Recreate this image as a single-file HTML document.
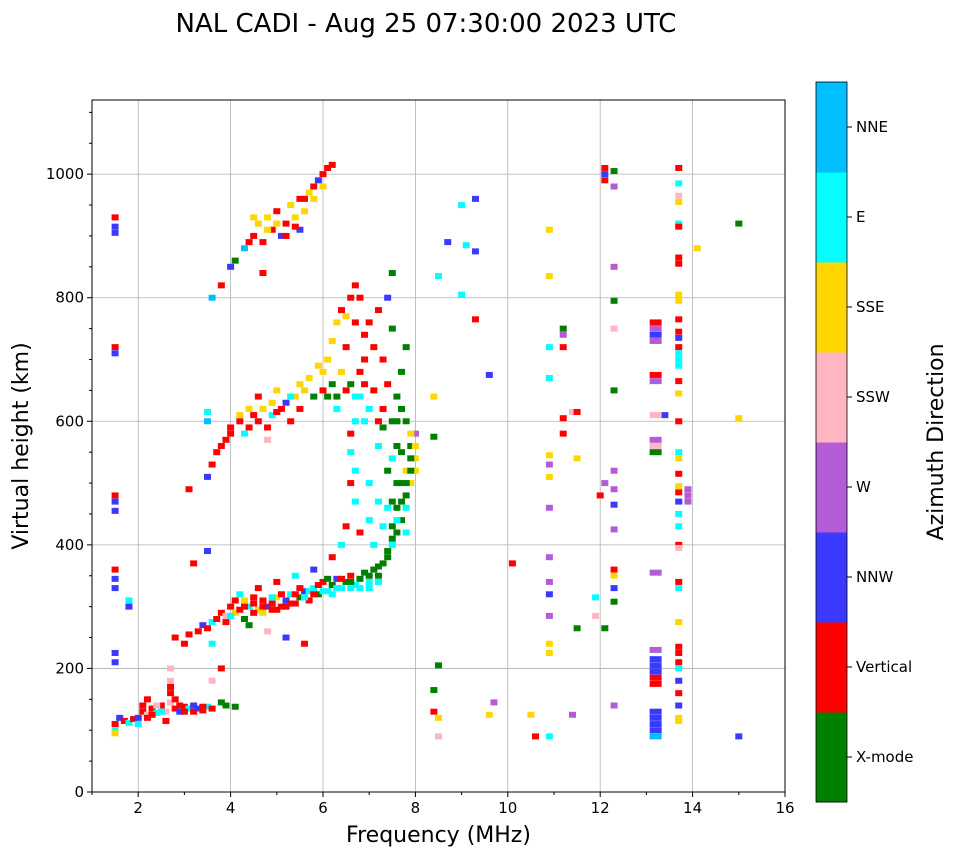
<!DOCTYPE html>
<html><head><meta charset="utf-8"><style>
body{margin:0;background:#fff;font-family:"DejaVu Sans",sans-serif;}
svg{display:block}
</style></head><body>
<svg id="chart" width="958" height="857" font-family="DejaVu Sans, sans-serif">
<text x="426" y="32" font-size="26" text-anchor="middle">NAL CADI - Aug 25 07:30:00 2023 UTC</text>
<g id="plot"></g>
<g id="cbar"></g>
</svg>
<script>
const categories=["X-mode","Vertical","NNW","W","SSW","SSE","E","NNE"];
const catColors=["#008000","#ff0000","#3a3aff","#b45cd6","#ffb6c1","#ffd700","#00ffff","#00bfff"];
const xTicks=[2,4,6,8,10,12,14,16];
const yTicks=[0,200,400,600,800,1000];
const echoes=[
[1.5,110,1],[1.5,100,6],[1.5,95,5],[1.6,120,2],[1.7,115,1],[1.8,112,6],[1.9,118,1],[2.0,120,2],[2.1,130,1],[2.2,125,4],[2.3,135,1],[2.4,128,6],[2.5,140,1],[2.6,130,4],[2.7,160,1],[2.7,145,4],[2.7,180,4],[2.8,135,1],[2.9,130,2],[3.0,138,1],[3.1,135,6],[3.2,130,1],[3.3,135,2],[3.4,132,1],[3.5,138,6],[3.8,145,0],[3.9,140,0],[4.1,138,0],[2.7,200,4],[2.2,120,1],[2.0,110,6],[2.6,115,1],
[2.1,140,1],[2.3,125,1],[2.5,130,6],[2.7,170,1],[2.8,150,1],[2.9,140,1],[3.0,130,1],[3.2,140,2],[3.4,138,1],[3.6,135,1],[2.2,150,1],[2.4,140,4],
[1.5,930,1],[1.5,915,2],[1.5,905,2],[1.5,720,1],[1.5,710,2],[1.5,480,1],[1.5,470,2],[1.5,455,2],[1.5,360,1],[1.5,345,2],[1.5,330,2],[1.5,225,2],[1.5,210,2],[1.8,300,2],[1.8,310,6],
[2.8,250,1],[3.0,240,1],[3.1,255,1],[3.3,260,1],[3.4,270,2],[3.5,265,1],[3.6,275,6],[3.7,280,1],[3.8,290,1],[3.9,285,4],[4.0,300,1],[4.1,290,5],[4.2,295,1],[4.3,280,0],[4.4,300,6],[4.5,305,1],[4.6,295,5],[4.7,310,1],[4.8,300,2],[4.9,305,1],[5.0,315,5],[5.1,300,1],[5.2,310,2],[5.3,320,6],[5.4,305,1],[5.5,315,0],[5.6,325,2],[5.7,310,1],[5.8,330,6],[5.9,320,0],[6.0,340,1],[6.1,325,6],[6.2,335,0],[6.3,345,2],[6.4,330,6],[6.5,340,0],[6.6,350,1],[6.7,335,6],[6.8,345,0],[6.9,355,0],[7.0,340,6],[7.1,360,0],[7.2,350,0],[7.3,370,0],[7.4,380,0],[7.5,400,6],[7.6,420,0],[7.7,440,0],[7.8,460,6],[7.8,480,0],[7.9,500,5],[8.0,520,5],[8.0,540,5],[7.9,560,0],[8.0,580,3],[7.7,550,0],[7.5,470,0],[7.3,430,6],[7.1,400,6],[6.8,420,1],[6.6,500,1],[6.6,550,6],[6.7,470,6],[7.0,500,6],[7.2,560,6],[7.4,520,0],[7.6,600,0],[7.6,640,0],[7.8,720,0],[7.7,680,0],[7.5,750,0],[7.4,800,2],[7.5,840,0],[7.2,780,1],[7.0,760,1],[6.9,700,1],[6.7,820,1],[6.6,800,1],[6.7,760,1],[6.5,770,5],[4.2,320,6],[4.6,330,1],[5.0,340,1],[5.4,350,6],[5.8,360,2],[6.2,380,1],[6.4,400,6],[6.5,430,1],[3.5,390,2],[3.2,370,1],[4.4,270,0],[4.8,260,4],[5.2,250,2],[5.6,240,1],[3.6,240,6],[3.8,200,1],[3.6,180,4],
[4.3,300,1],[4.5,290,1],[4.7,290,5],[4.9,295,1],[5.1,320,1],[5.3,305,1],[5.5,330,1],[5.7,325,6],[5.9,335,1],[6.1,345,0],[6.3,330,6],[6.6,330,6],[7.0,330,6],[7.2,340,6],[7.5,430,0],[7.6,460,0],[7.7,500,0],[7.8,520,5],[7.9,540,0],[7.8,600,0],[7.3,620,1],[7.1,650,1],
[3.9,275,1],[4.0,285,6],[4.1,310,1],[4.3,310,5],[4.5,315,1],[4.7,300,1],[4.9,315,6],[5.0,295,1],[5.2,300,1],[5.4,320,1],[5.6,315,6],[5.8,320,1],[6.0,325,6],[6.2,320,6],[6.4,345,1],[6.6,340,0],[6.8,330,6],[7.0,350,0],[7.2,365,0],[7.4,390,0],[7.5,410,0],[7.6,440,6],[7.7,470,0],[7.8,500,0],[7.9,520,0],[7.9,580,5],[8.0,560,5],[7.6,560,0],[7.5,600,0],[7.4,660,1],[7.3,700,1],[7.1,720,1],[6.9,740,1],[6.8,800,1],[7.2,470,6],[7.0,440,6],[6.9,600,6],[6.7,600,6],[6.6,580,1],[6.7,520,6],[7.3,590,0],[7.5,540,6],[7.7,620,0],[7.4,460,6],[7.6,500,0],[7.8,420,6],
[3.1,490,1],[3.5,510,2],[3.6,530,1],[3.7,550,1],[3.9,570,1],[4.0,580,1],[4.2,610,5],[4.4,620,5],[4.6,600,1],[4.8,590,1],[4.9,610,6],[5.0,615,1],[5.2,630,2],[5.3,600,1],[5.4,640,5],[5.5,620,1],[5.6,650,5],[5.8,640,0],[6.0,650,1],[6.0,680,5],[6.1,700,5],[6.2,660,0],[6.3,640,0],[6.4,680,5],[6.5,720,1],[6.6,660,0],[6.8,640,6],[7.0,620,6],[7.2,600,1],[6.2,730,5],[6.3,760,5],[6.4,780,1],[4.6,640,1],[5.0,650,5],[4.3,580,6],[4.8,570,4],[3.5,600,7],[3.5,615,6],
[3.8,560,1],[4.0,590,1],[4.2,600,1],[4.4,590,1],[4.5,610,1],[4.7,620,5],[4.9,630,5],[5.1,620,1],[5.3,640,6],[5.5,660,5],[5.7,670,5],[5.9,690,5],[6.1,640,0],[6.3,620,6],[6.5,650,1],[6.7,640,6],[6.8,680,1],[6.9,660,1],
[3.6,800,7],[3.8,820,1],[4.0,850,2],[4.1,860,0],[4.3,880,7],[4.5,900,1],[4.6,920,5],[4.7,890,1],[4.8,930,5],[4.9,910,1],[5.0,940,1],[5.1,900,2],[5.2,920,1],[5.3,950,5],[5.4,930,5],[5.5,960,1],[5.6,940,5],[5.7,970,5],[5.8,980,1],[5.9,990,2],[6.0,1000,1],[6.1,1010,1],[5.5,910,2],[4.7,840,1],
[4.5,930,5],[4.8,910,5],[5.0,920,5],[5.2,900,1],[5.4,915,1],[5.6,960,1],[5.8,960,5],[6.0,980,5],[6.2,1015,1],[4.4,890,1],
[8.4,640,5],[8.4,575,0],[8.5,835,6],[8.7,890,2],[9.0,950,6],[9.1,885,6],[9.3,875,2],[9.3,960,2],[9.0,805,6],[9.3,765,1],[9.6,675,2],[8.5,205,0],[8.4,165,0],[8.4,130,1],[8.5,120,5],[8.5,90,4],[9.7,145,3],[9.6,125,5],[10.1,370,1],[10.5,125,5],[10.6,90,1],[10.9,90,6],[10.9,910,5],[10.9,835,5],[10.9,720,6],[10.9,670,6],[10.9,545,5],[10.9,530,3],[10.9,510,5],[10.9,460,3],[10.9,380,3],[10.9,340,3],[10.9,320,2],[10.9,285,3],[10.9,240,5],[10.9,225,5],[11.2,750,0],[11.2,740,3],[11.2,720,1],[11.2,605,1],[11.2,580,1],[11.4,615,4],[11.5,615,1],[11.5,540,5],[11.4,125,3],[11.5,265,0],[12.0,480,1],[12.1,1010,1],[12.1,1000,2],[12.1,990,1],[12.3,1005,0],[12.3,980,3],[12.3,850,3],[12.3,795,0],[12.3,750,4],[12.3,650,0],[12.3,520,3],[12.3,490,3],[12.3,465,2],[12.3,425,3],[12.3,360,1],[12.3,350,5],[12.3,330,2],[12.3,308,0],[12.3,140,3],[12.1,500,3],[12.1,265,0],[11.9,315,6],[11.9,285,4],
[13.2,760,1],[13.2,750,3],[13.2,740,2],[13.2,730,3],[13.2,675,1],[13.2,665,3],[13.2,570,3],[13.2,560,4],[13.2,550,0],[13.2,230,3],[13.2,215,2],[13.2,205,2],[13.2,195,2],[13.2,185,1],[13.2,175,1],[13.2,130,2],[13.2,120,2],[13.2,110,2],[13.2,100,2],[13.2,90,7],[13.4,610,2],[13.2,610,4],[13.2,355,3],
[13.7,1010,1],[13.7,985,6],[13.7,965,4],[13.7,955,5],[13.7,920,6],[13.7,915,1],[13.7,865,1],[13.7,855,1],[13.7,805,5],[13.7,795,5],[13.7,765,1],[13.7,745,1],[13.7,735,2],[13.7,720,1],[13.7,710,6],[13.7,700,6],[13.7,690,6],[13.7,665,1],[13.7,645,5],[13.7,600,1],[13.7,550,6],[13.7,540,5],[13.7,515,1],[13.7,495,5],[13.7,485,1],[13.7,470,2],[13.7,450,6],[13.7,430,6],[13.7,400,1],[13.7,395,4],[13.7,340,1],[13.7,330,6],[13.7,275,5],[13.7,235,1],[13.7,225,1],[13.7,210,1],[13.7,200,6],[13.7,180,2],[13.7,160,1],[13.7,140,2],[13.7,120,5],[13.7,115,5],[13.9,490,3],[13.9,480,3],[13.9,470,3],[14.1,880,5],[15.0,920,0],[15.0,605,5],[15.0,90,2]
];
const NS="http://www.w3.org/2000/svg";
const L=92,R=785,T=100,B=792;
const xMin=1,xMax=16,yMin=0,yMax=1120;
const xs=v=>L+(v-xMin)/(xMax-xMin)*(R-L);
const ys=v=>B-(v-yMin)/(yMax-yMin)*(B-T);
function mk(tag,attrs,parent,name,txt){const e=document.createElementNS(NS,tag);for(const k in attrs)e.setAttribute(k,attrs[k]);


if(txt!==undefined)e.textContent=txt;parent.appendChild(e);return e;}
const plot=document.getElementById('plot');
mk('rect',{x:L,y:T,width:R-L,height:B-T,fill:'#fff'},plot,'plot-background');
xTicks.forEach(t=>{if(t<xMax)mk('line',{x1:xs(t),x2:xs(t),y1:T,y2:B,stroke:'#b0b0b0','stroke-width':0.8},plot,'x-grid-line');});
yTicks.forEach(t=>{if(t>yMin)mk('line',{x1:L,x2:R,y1:ys(t),y2:ys(t),stroke:'#b0b0b0','stroke-width':0.8},plot,'y-grid-line');});
echoes.forEach(d=>{const w=(d[0]===13.2)?12:7;
mk('rect',{x:xs(d[0])-w/2,y:ys(d[1])-3,width:w,height:6,fill:catColors[d[2]]},plot,'echo-mark');});
mk('rect',{x:L,y:T,width:R-L,height:B-T,fill:'none',stroke:'#000','stroke-width':1},plot,'plot-frame');
xTicks.forEach(t=>{mk('line',{x1:xs(t),x2:xs(t),y1:B,y2:B+5,stroke:'#000'},plot,'x-tick');
mk('text',{x:xs(t),y:B+21,'font-size':15,'text-anchor':'middle'},plot,'x-tick-label',String(t));});
for(let m=1;m<=16;m++){if(m%2)mk('line',{x1:xs(m),x2:xs(m),y1:B,y2:B+3,stroke:'#000'},plot,'x-minor-tick');}
yTicks.forEach(t=>{mk('line',{x1:L-5,x2:L,y1:ys(t),y2:ys(t),stroke:'#000'},plot,'y-tick');
mk('text',{x:L-8,y:ys(t)+5,'font-size':15,'text-anchor':'end'},plot,'y-tick-label',String(t));});
for(let m=50;m<=1100;m+=50){if(m%200)mk('line',{x1:L-3,x2:L,y1:ys(m),y2:ys(m),stroke:'#000'},plot,'y-minor-tick');}
mk('text',{x:(L+R)/2,y:842,'font-size':22,'text-anchor':'middle'},plot,'x-axis-title','Frequency (MHz)');
mk('text',{x:0,y:0,'font-size':22,'text-anchor':'middle',transform:'translate(28,446) rotate(-90)'},plot,'y-axis-title','Virtual height (km)');
const cb=document.getElementById('cbar');
const cbT=82,cbB=802,cbL=816,cbW=31,seg=(cbB-cbT)/categories.length;
categories.forEach((c,i)=>{const y0=cbB-(i+1)*seg;
mk('rect',{x:cbL,y:y0,width:cbW,height:seg+0.5,fill:catColors[i]},cb,'colorbar-segment');
mk('line',{x1:cbL+cbW,x2:cbL+cbW+5,y1:y0+seg/2,y2:y0+seg/2,stroke:'#000'},cb,'colorbar-tick');
mk('text',{x:856,y:y0+seg/2+5,'font-size':15},cb,'colorbar-label',c);});
mk('rect',{x:cbL,y:cbT,width:cbW,height:cbB-cbT,fill:'none',stroke:'#000','stroke-width':0.8},cb,'colorbar-frame');
mk('text',{x:0,y:0,'font-size':22,'text-anchor':'middle',transform:'translate(943,442) rotate(-90)'},cb,'colorbar-title','Azimuth Direction');
</script>
</body></html>
